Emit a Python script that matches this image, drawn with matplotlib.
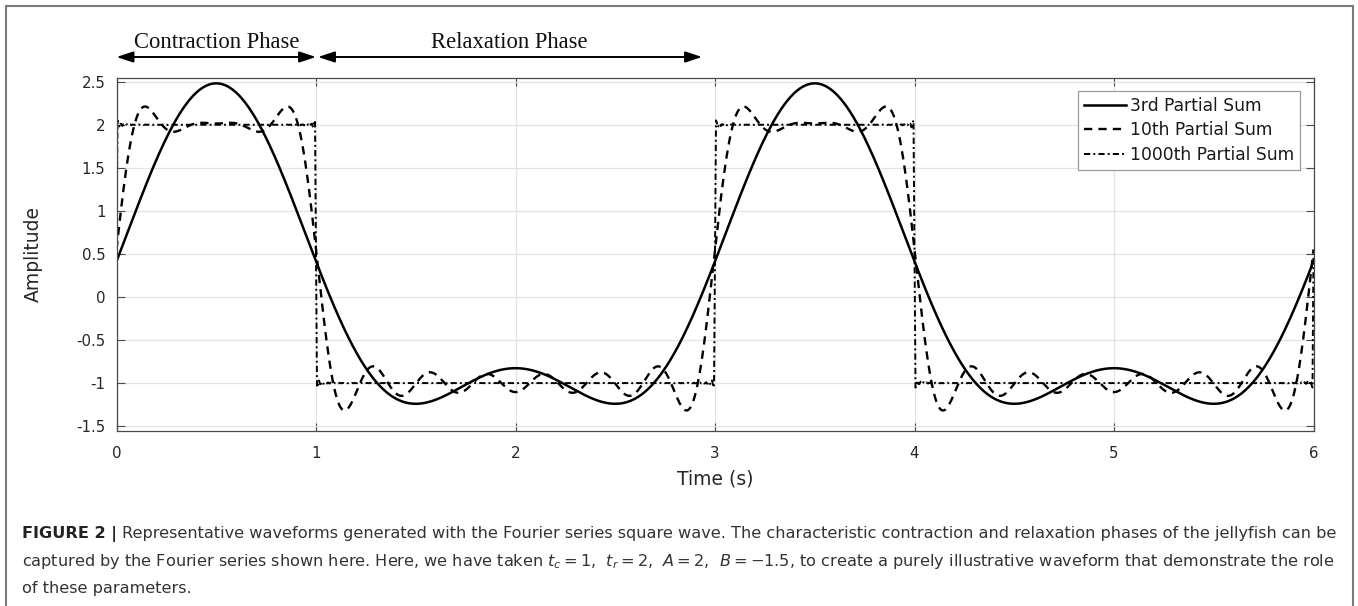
import numpy as np
import matplotlib
matplotlib.use("Agg")
import matplotlib.pyplot as plt
import matplotlib.transforms as mtransforms
from matplotlib.patches import Rectangle

t_contraction = 1.0          # contraction phase duration (s)
t_relaxation = 2.0           # relaxation phase duration (s)
level_high = 2.0             # square-wave level during contraction
level_low = -1.0             # square-wave level during relaxation
partial_orders = [3, 10, 1000]
series_labels = ["3rd Partial Sum", "10th Partial Sum", "1000th Partial Sum"]
t_range = [0.0, 6.0]
x_ticks = [0, 1, 2, 3, 4, 5, 6]
y_ticks = [-1.5, -1, -0.5, 0, 0.5, 1, 1.5, 2, 2.5]
y_tick_labels = ["-1.5", "-1", "-0.5", "0", "0.5", "1", "1.5", "2", "2.5"]
phase_labels = ["Contraction Phase", "Relaxation Phase"]
phase_spans = [[0.0, 1.0], [1.01, 2.935]]
phase_label_x = [0.5, 1.97]


def partial_sum(t, order):
    period = t_contraction + t_relaxation
    duty = t_contraction / period
    mean = level_high * duty + level_low * (1 - duty)
    n = np.arange(1, order + 1)[:, None]
    coef = 2 * (level_high - level_low) / (n * np.pi) * np.sin(n * np.pi * duty)
    return mean + np.sum(coef * np.cos(2 * np.pi * n * (t[None, :] - t_contraction / 2) / period), axis=0)


W, H = 1358, 606
fig = plt.figure(figsize=(W / 100, H / 100), dpi=100)
plt.rcParams['font.family'] = ['DejaVu Sans']
plt.rcParams['mathtext.fontset'] = 'dejavusans'

ax = fig.add_axes([116.5 / W, 1 - 430.7 / H, (1313.5 - 116.5) / W, (430.7 - 78) / H])

t_fine = np.linspace(t_range[0], t_range[1], 3001)
t_sq = np.linspace(t_range[0], t_range[1], 1201)

styles = [
    dict(color="black", lw=1.8, ls="-"),
    dict(color="black", lw=1.7, dashes=(3.5, 2.6)),
    dict(color="black", lw=1.4, dashes=(3.2, 1.6, 1.0, 1.6)),
]
for order, lab, st in zip(partial_orders, series_labels, styles):
    tt = t_sq if order > 100 else t_fine
    ax.plot(tt, partial_sum(tt, order), label=lab, **st)

ax.set_xlim(t_range)
ax.set_ylim(-1.553, 2.543)
ax.set_xticks(x_ticks)
ax.set_yticks(y_ticks)
ax.set_yticklabels(y_tick_labels)
ax.grid(True, color="#e3e3e3", lw=0.9)
ax.set_axisbelow(True)
ax.tick_params(direction="in", length=6, width=0.8, color="#4a4a4a",
               top=True, right=True, labelsize=10.8, labelcolor="#262626")
ax.tick_params(axis="x", pad=11)
ax.tick_params(axis="y", pad=8)
for s in ax.spines.values():
    s.set_color("#4a4a4a")
    s.set_linewidth(0.9)

ax.set_xlabel("Time (s)", fontsize=13.5, color="#262626", labelpad=6)
ax.set_ylabel("Amplitude", fontsize=13.5, color="#262626", labelpad=24)

leg = fig.legend(loc="upper right", bbox_to_anchor=(1300 / W, 1 - 91 / H),
                 fontsize=12.3, frameon=True, fancybox=False, framealpha=1,
                 edgecolor="#9a9a9a", handlelength=2.5, handletextpad=0.2,
                 labelspacing=0.38, borderpad=0.35, borderaxespad=0)
leg.get_frame().set_linewidth(0.9)
for txt in leg.get_texts():
    txt.set_color("#1a1a1a")

# phase arrows and labels
blend = mtransforms.blended_transform_factory(ax.transData, fig.transFigure)
arrow_y = 1 - 57 / H
for (x0, x1) in phase_spans:
    ax.annotate("", xy=(x1, arrow_y), xytext=(x0, arrow_y),
                xycoords=blend, textcoords=blend,
                arrowprops=dict(arrowstyle="<|-|>,head_length=1.0,head_width=0.33",
                                color="black", lw=1.4, shrinkA=0, shrinkB=0),
                annotation_clip=False)
for xc, lab in zip(phase_label_x, phase_labels):
    ax.text(xc, 1 - 48 / H, lab, transform=blend,
            ha="center", va="baseline", fontsize=16.3, family="Liberation Serif", color="#111111")

# outer frame
fig.patches.append(Rectangle((6 / W, -0.05), (1353 - 6) / W, 1.05 - 6.5 / H,
                             transform=fig.transFigure, fill=False,
                             edgecolor="#7a7a7a", lw=1.5))

# caption
cap_fs = 11.6
cap_x = 22 / W
lines_y = [1 - 538 / H, 1 - 566 / H, 1 - 593 / H]
fig.canvas.draw()
renderer = fig.canvas.get_renderer()
bold = fig.text(cap_x, lines_y[0], "FIGURE 2 |", fontsize=cap_fs, weight="bold",
                color="#222222", va="baseline")
bb = bold.get_window_extent(renderer)
fig.text((bb.x1 + 5) / W, lines_y[0],
         "Representative waveforms generated with the Fourier series square wave. The characteristic contraction and relaxation phases of the jellyfish can be",
         fontsize=cap_fs, color="#333333", va="baseline")
fig.text(cap_x, lines_y[1],
         r"captured by the Fourier series shown here. Here, we have taken $t_c = 1$,  $t_r = 2$,  $A = 2$,  $B = -1.5$, to create a purely illustrative waveform that demonstrate the role",
         fontsize=cap_fs, color="#333333", va="baseline")
fig.text(cap_x, lines_y[2], "of these parameters.", fontsize=cap_fs, color="#333333", va="baseline")

fig.savefig("out.png", dpi=100)
